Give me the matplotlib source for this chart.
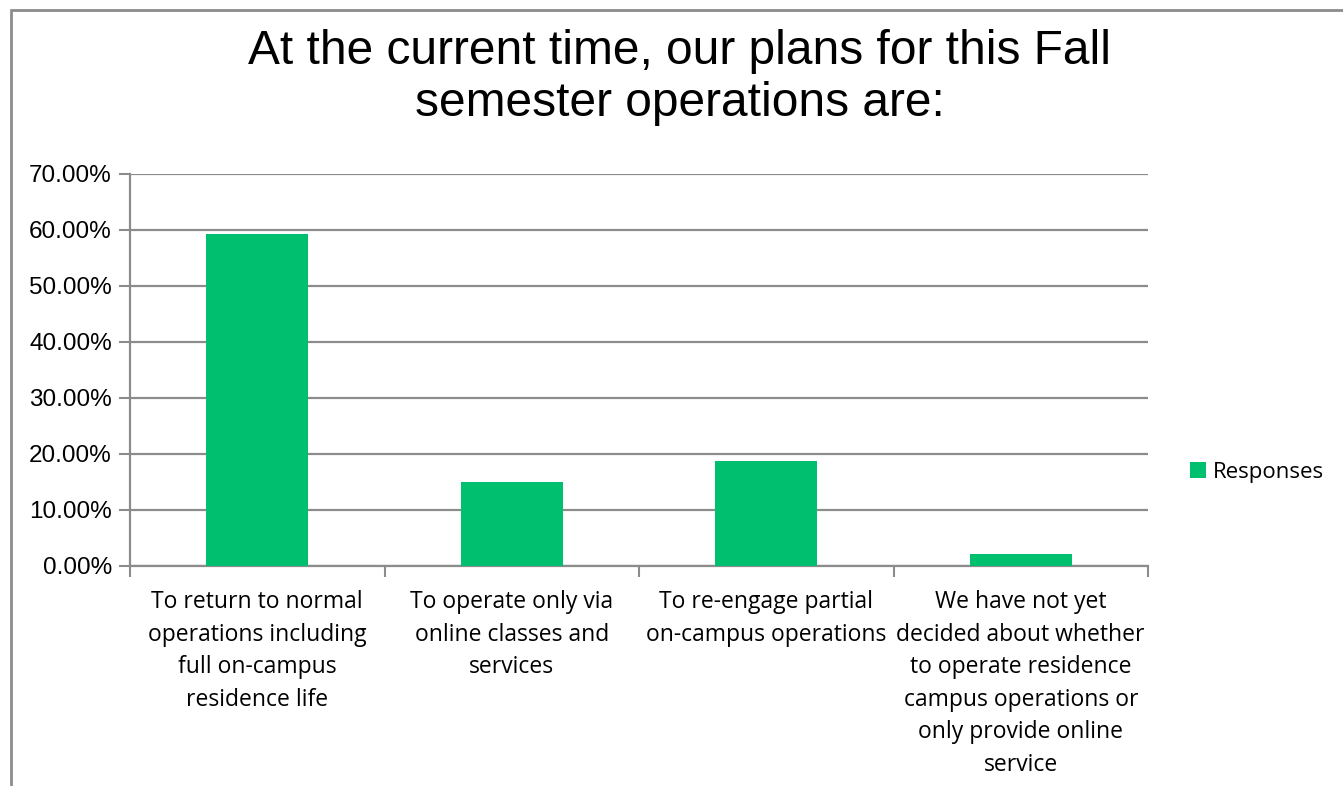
import numpy as np
import matplotlib.pyplot as plt
from matplotlib.patches import Rectangle

categories = ['To return to normal\noperations including\nfull on-campus\nresidence life',
              'To operate only via\nonline classes and\nservices',
              'To re-engage partial\non-campus operations',
              'We have not yet\ndecided about whether\nto operate residence\ncampus operations or\nonly provide online\nservice']
responses = [59.3, 14.9, 18.7, 2.1]
yticks = [0, 10, 20, 30, 40, 50, 60, 70]

green = '#00BF6F'
grid_col = '#8C8C8C'

fig = plt.figure(figsize=(13.43, 7.86), dpi=100)
ax = fig.add_axes([130/1343, 1 - 565.5/786, (1148-130)/1343, (565.5-174)/786])

# outer chart border (only top and left visible in crop)
fig.patches.append(Rectangle((11/1343, -0.1), 1.2, 1 - 10/786 + 0.1, transform=fig.transFigure,
                             fill=False, edgecolor='#8C8C8C', linewidth=2, zorder=0))

x = np.arange(len(categories))
ax.bar(x, responses, width=0.4, color=green, label='Responses', zorder=3)

ax.set_xlim(-0.5, len(categories) - 0.5)
ax.set_ylim(0, 70)
ax.set_yticks(yticks)
ax.set_yticklabels([f'{v:.2f}%' for v in yticks], fontsize=17.5, family='Liberation Sans')
ax.yaxis.grid(True, color=grid_col, linewidth=1.6, zorder=0)
ax.tick_params(axis='y', length=8, width=1.5, color=grid_col, pad=5)

ax.set_xticks(x)
ax.set_xticklabels(categories, fontsize=16.5, family='Open Sans', linespacing=1.47, va='top')
ax.set_xticks(np.arange(-0.5, len(categories), 1), minor=True)
ax.tick_params(axis='x', which='major', length=0, pad=18)
ax.tick_params(axis='x', which='minor', length=8, width=1.5, color=grid_col)

for s in ['top', 'right']:
    ax.spines[s].set_visible(False)
ax.spines['left'].set_color(grid_col)
ax.spines['left'].set_linewidth(1.6)
ax.spines['bottom'].set_color(grid_col)
ax.spines['bottom'].set_linewidth(1.6)

fig.text(680/1343, 1 - 77/786, 'At the current time, our plans for this Fall\nsemester operations are:',
         ha='center', va='center', fontsize=34.5, family='Liberation Sans', linespacing=1.2)

ax.legend(loc='center left', bbox_to_anchor=(1.022, 0.238), frameon=False,
          prop={'family': 'Open Sans', 'size': 16}, handlelength=0.7, handleheight=0.7,
          handletextpad=0.3)

fig.savefig('out.png', dpi=100)
